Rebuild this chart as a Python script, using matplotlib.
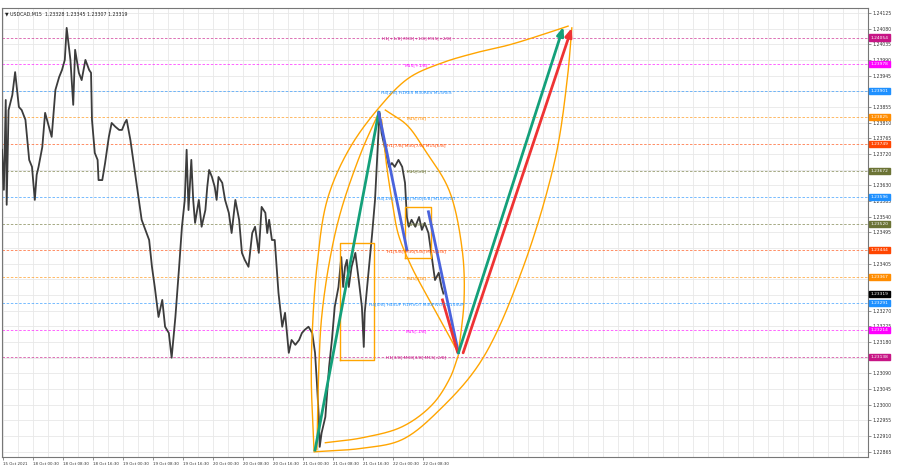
import numpy as np
import matplotlib
matplotlib.use("Agg")
import matplotlib.pyplot as plt

# ---- price data (M15 bar index, close) ----
bars = [0, 2, 4, 5, 7, 11, 14, 16, 18, 21,
        25, 29, 32, 35, 37, 39, 43, 46, 50, 53,
        57, 61, 64, 67, 69, 73, 76, 78, 82, 85,
        89, 93, 95, 96, 99, 102, 103, 107, 110, 114,
        117, 121, 125, 128, 131, 133, 137, 140, 142, 146,
        149, 153, 157, 160, 163, 167, 171, 174, 176, 178,
        181, 185, 189, 192, 195, 197, 199, 202, 204, 206,
        210, 213, 217, 219, 221, 224, 227, 229, 231, 235,
        238, 242, 245, 249, 253, 256, 259, 263, 267, 270,
        272, 274, 277, 281, 283, 285, 288, 291, 295, 299,
        302, 306, 309, 313, 317, 320, 323, 327, 331, 334,
        336, 338, 339, 341, 345, 349, 352, 355, 359, 362,
        364, 366, 368, 370, 373, 377, 381, 384, 386, 387,
        391, 395, 398, 402, 403, 405, 409, 413, 416, 419,
        423, 427, 430, 432, 434, 437, 441, 445, 448, 451,
        455, 459, 462, 466, 469, 471]
closes = [1.23732, 1.23617, 1.23875, 1.23574, 1.23846, 1.23889, 1.23955, 1.23904, 1.23855, 1.23846,
          1.23818, 1.23703, 1.23683, 1.23588, 1.23660, 1.23683, 1.23740, 1.23838, 1.23798, 1.23769,
          1.23904, 1.23941, 1.23961, 1.23990, 1.24082, 1.23990, 1.23861, 1.24019, 1.23953, 1.23932,
          1.23990, 1.23961, 1.23953, 1.23818, 1.23723, 1.23703, 1.23645, 1.23645, 1.23694, 1.23769,
          1.23809, 1.23798, 1.23789, 1.23789, 1.23809, 1.23818, 1.23760, 1.23703, 1.23666, 1.23588,
          1.23531, 1.23502, 1.23473, 1.23396, 1.23338, 1.23252, 1.23301, 1.23224, 1.23215, 1.23206,
          1.23135, 1.23252, 1.23396, 1.23511, 1.23588, 1.23732, 1.23559, 1.23703, 1.23588, 1.23522,
          1.23588, 1.23511, 1.23559, 1.23625, 1.23674, 1.23654, 1.23625, 1.23588, 1.23654, 1.23637,
          1.23588, 1.23551, 1.23493, 1.23588, 1.23531, 1.23436, 1.23416, 1.23396, 1.23493, 1.23511,
          1.23473, 1.23436, 1.23568, 1.23551, 1.23493, 1.23531, 1.23473, 1.23473, 1.23321, 1.23224,
          1.23264, 1.23149, 1.23186, 1.23172, 1.23186, 1.23206, 1.23215, 1.23224, 1.23206, 1.23149,
          1.23063, 1.22965, 1.22879, 1.22919, 1.22965, 1.23109, 1.23186, 1.23281, 1.23338, 1.23424,
          1.23338, 1.23396, 1.23416, 1.23338, 1.23396, 1.23436, 1.23350, 1.23281, 1.23166, 1.23264,
          1.23379, 1.23493, 1.23588, 1.23798, 1.23838, 1.23780, 1.23732, 1.23683, 1.23694, 1.23683,
          1.23703, 1.23683, 1.23637, 1.23539, 1.23511, 1.23531, 1.23511, 1.23539, 1.23502, 1.23522,
          1.23493, 1.23416, 1.23358, 1.23379, 1.23338, 1.23319]

title = "\u25bc USDCAD,M15  1.23328 1.23345 1.23307 1.23319"
last_price = 1.23319

time_labels = ["15 Oct 2021", "18 Oct 00:30", "18 Oct 08:30", "18 Oct 16:30", "19 Oct 00:30",
               "19 Oct 08:30", "19 Oct 16:30", "20 Oct 00:30", "20 Oct 08:30", "20 Oct 16:30",
               "21 Oct 00:30", "21 Oct 08:30", "21 Oct 16:30", "22 Oct 00:30", "22 Oct 08:30"]

# ---- murrey levels ----
level_prices = [1.24054, 1.23978, 1.23901, 1.23825, 1.23749, 1.23672, 1.23596,
                1.23520, 1.23444, 1.23367, 1.23291, 1.23214, 1.23138]
level_labels = ["H1[+1/8] M30[+1/8] M15[+2/8]", "M15[+1/8]", "H4[2/8] H1RES M30RES M15RES",
                "M15[7/8]", "H1[7/8] M30[7/8] M15[6/8]", "M15[5/8]",
                "H4[1/8] H1[6/8] M30[6/8] M15PIVOT", "M15[3/8]", "H1[5/8] M30[5/8] M15[2/8]",
                "M15[1/8]", "H4[0/8] H4SUP H1PIVOT M30PIVOT M15SUP", "M15[-1/8]",
                "H1[3/8] M30[3/8] M15[-2/8]"]
level_colors = ["#c71585", "#ff00ff", "#1e90ff", "#ff8c00", "#ff4500", "#6b7335", "#1e90ff",
                "#6b7335", "#ff4500", "#ff8c00", "#1e90ff", "#ff00ff", "#c71585"]

# ---- pattern drawings (bar, price) ----
pt_a = (334, 1.22870)
pt_b = (402, 1.23840)
pt_c = (487, 1.23149)
green_end = (599, 1.24085)
red_end = (608, 1.24082)
blue_1 = [(402, 1.23838), (432, 1.23445)]
blue_2 = [(455, 1.23554), (487, 1.23149)]
red_short = [(470, 1.23301), (486, 1.23152)]
red_start = (492, 1.23149)

boxes = [(361, 397, 1.23129, 1.23465), (430, 458, 1.23421, 1.23568)]

arcs = [
    [(333, 1.22865), (330, 1.23071), (331, 1.23206), (336, 1.23396), (347, 1.23588), (370, 1.23732),
     (402, 1.23852), (434, 1.23938), (469, 1.23981), (505, 1.24010), (541, 1.24033), (576, 1.24062),
     (604, 1.24087)],
    [(336, 1.22871), (338, 1.23100), (341, 1.23250), (350, 1.23420), (362, 1.23560), (384, 1.23730),
     (402, 1.23838)],
    [(405, 1.23818), (411, 1.23674), (416, 1.23588), (423, 1.23488), (437, 1.23396), (453, 1.23315),
     (466, 1.23252), (485, 1.23158)],
    [(409, 1.23846), (432, 1.23803), (451, 1.23732), (477, 1.23616), (491, 1.23445), (493, 1.23301),
     (487, 1.23149)],
    [(345, 1.22891), (384, 1.22905), (427, 1.22937), (459, 1.23000), (478, 1.23077), (487, 1.23143)],
    [(334, 1.22865), (384, 1.22875), (427, 1.22900), (469, 1.22991), (512, 1.23129), (555, 1.23387),
     (590, 1.23703), (603, 1.23932), (608, 1.24082)],
]

XL = (0, 924)
YL = (1.22850, 1.24139)


def smooth(pts, n=30):
    # centripetal catmull-rom, parametrised in screen-like units
    p = np.array(pts, dtype=float)
    sx = 866.0 / (XL[1] - XL[0])
    sy = 449.0 / (YL[1] - YL[0])
    q = np.column_stack([p[:, 0] * sx, p[:, 1] * sy])
    q = np.vstack([2 * q[0] - q[1], q, 2 * q[-1] - q[-2]])
    out = []
    for i in range(1, len(q) - 2):
        p0, p1, p2, p3 = q[i - 1], q[i], q[i + 1], q[i + 2]
        t0 = 0.0
        t1 = t0 + np.linalg.norm(p1 - p0) ** 0.5 + 1e-9
        t2 = t1 + np.linalg.norm(p2 - p1) ** 0.5 + 1e-9
        t3 = t2 + np.linalg.norm(p3 - p2) ** 0.5 + 1e-9
        t = np.linspace(t1, t2, n)[:, None]
        a1 = (t1 - t) / (t1 - t0) * p0 + (t - t0) / (t1 - t0) * p1
        a2 = (t2 - t) / (t2 - t1) * p1 + (t - t1) / (t2 - t1) * p2
        a3 = (t3 - t) / (t3 - t2) * p2 + (t - t2) / (t3 - t2) * p3
        b1 = (t2 - t) / (t2 - t0) * a1 + (t - t0) / (t2 - t0) * a2
        b2 = (t3 - t) / (t3 - t1) * a2 + (t - t1) / (t3 - t1) * a3
        out.append((t2 - t) / (t2 - t1) * b1 + (t - t1) / (t2 - t1) * b2)
    out = np.vstack(out)
    return out[:, 0] / sx, out[:, 1] / sy


fig = plt.figure(figsize=(9, 4.68), dpi=100)
ax = fig.add_axes([2 / 900, 11 / 468, 866 / 900, 449 / 468])
ax.set_xlim(*XL)
ax.set_ylim(*YL)

# grid and price scale
yt = np.round(1.22865 + 0.00045 * np.arange(29), 5)
boxed = level_prices + [last_price]
ax.set_yticks(yt)
ax.set_yticklabels(["" if min(abs(v - b) for b in boxed) < 0.0001 else f"{v:.5f}" for v in yt])
ax.yaxis.tick_right()
for v in yt:
    ax.axhline(v, color="#e8e8e8", lw=0.6, zorder=0)
for xv in np.arange(1, 924, 16):
    ax.axvline(xv, color="#e8e8e8", lw=0.6, zorder=0)

xt = 1 + 32 * np.arange(len(time_labels))
ax.set_xticks(xt)
ax.set_xticklabels(time_labels)
for lab in ax.get_xticklabels():
    lab.set_ha("left")
    lab.set_fontsize(2.9)
for lab in ax.get_yticklabels():
    lab.set_fontsize(3.3)
ax.tick_params(axis="both", length=2, width=0.5, color="#666", pad=1.5, labelcolor="#333")

for s in ax.spines.values():
    s.set_color("#777")
    s.set_linewidth(0.8)

# murrey level lines and labels
for pr, lab, col in zip(level_prices, level_labels, level_colors):
    ax.axhline(pr, color=col, lw=0.6, ls=(0, (3, 2)), alpha=0.7, zorder=1)
    ax.text(442, pr - 0.00003, lab, color=col, fontsize=3.2, ha="center", va="center", zorder=6)
    ax.text(1.003, pr, f"{pr:.5f}", transform=ax.get_yaxis_transform(), color="white",
            fontsize=3.2, ha="left", va="center", zorder=8, clip_on=False,
            bbox=dict(boxstyle="square,pad=0.25", fc=col, ec=col))
ax.text(1.003, last_price, f"{last_price:.5f}", transform=ax.get_yaxis_transform(), color="white",
        fontsize=3.2, ha="left", va="center", zorder=8, clip_on=False,
        bbox=dict(boxstyle="square,pad=0.25", fc="black", ec="black"))

# price
ax.plot(bars, closes, color="#3c3c3c", lw=1.3, zorder=3)

# orange drawings
orange = "#ffa500"
for x0, x1, y0, y1 in boxes:
    ax.plot([x0, x1, x1, x0, x0], [y0, y0, y1, y1, y0], color=orange, lw=1.0, zorder=4)
for arc in arcs:
    xs, ys = smooth(arc)
    ax.plot(xs, ys, color=orange, lw=1.0, zorder=4)

# wave lines
ax.plot([pt_a[0], pt_b[0]], [pt_a[1], pt_b[1]], color="#14a07a", lw=2.0, zorder=5)
for seg in (blue_1, blue_2):
    ax.plot([seg[0][0], seg[1][0]], [seg[0][1], seg[1][1]], color="#4a63dc", lw=2.0, zorder=5)
ax.plot([red_short[0][0], red_short[1][0]], [red_short[0][1], red_short[1][1]],
        color="#ee3333", lw=2.0, zorder=5)
ax.annotate("", xy=green_end, xytext=pt_c, zorder=5,
            arrowprops=dict(arrowstyle="-|>,head_length=0.5,head_width=0.2", color="#14a07a",
                            lw=2.0, shrinkA=0, shrinkB=0))
ax.annotate("", xy=red_end, xytext=red_start, zorder=5,
            arrowprops=dict(arrowstyle="-|>,head_length=0.5,head_width=0.2", color="#ee3333",
                            lw=2.0, shrinkA=0, shrinkB=0))

ax.text(0.004, 0.992, title, transform=ax.transAxes, fontsize=3.4, ha="left", va="top",
        color="#222", zorder=9)

fig.savefig("out.png", dpi=100)
